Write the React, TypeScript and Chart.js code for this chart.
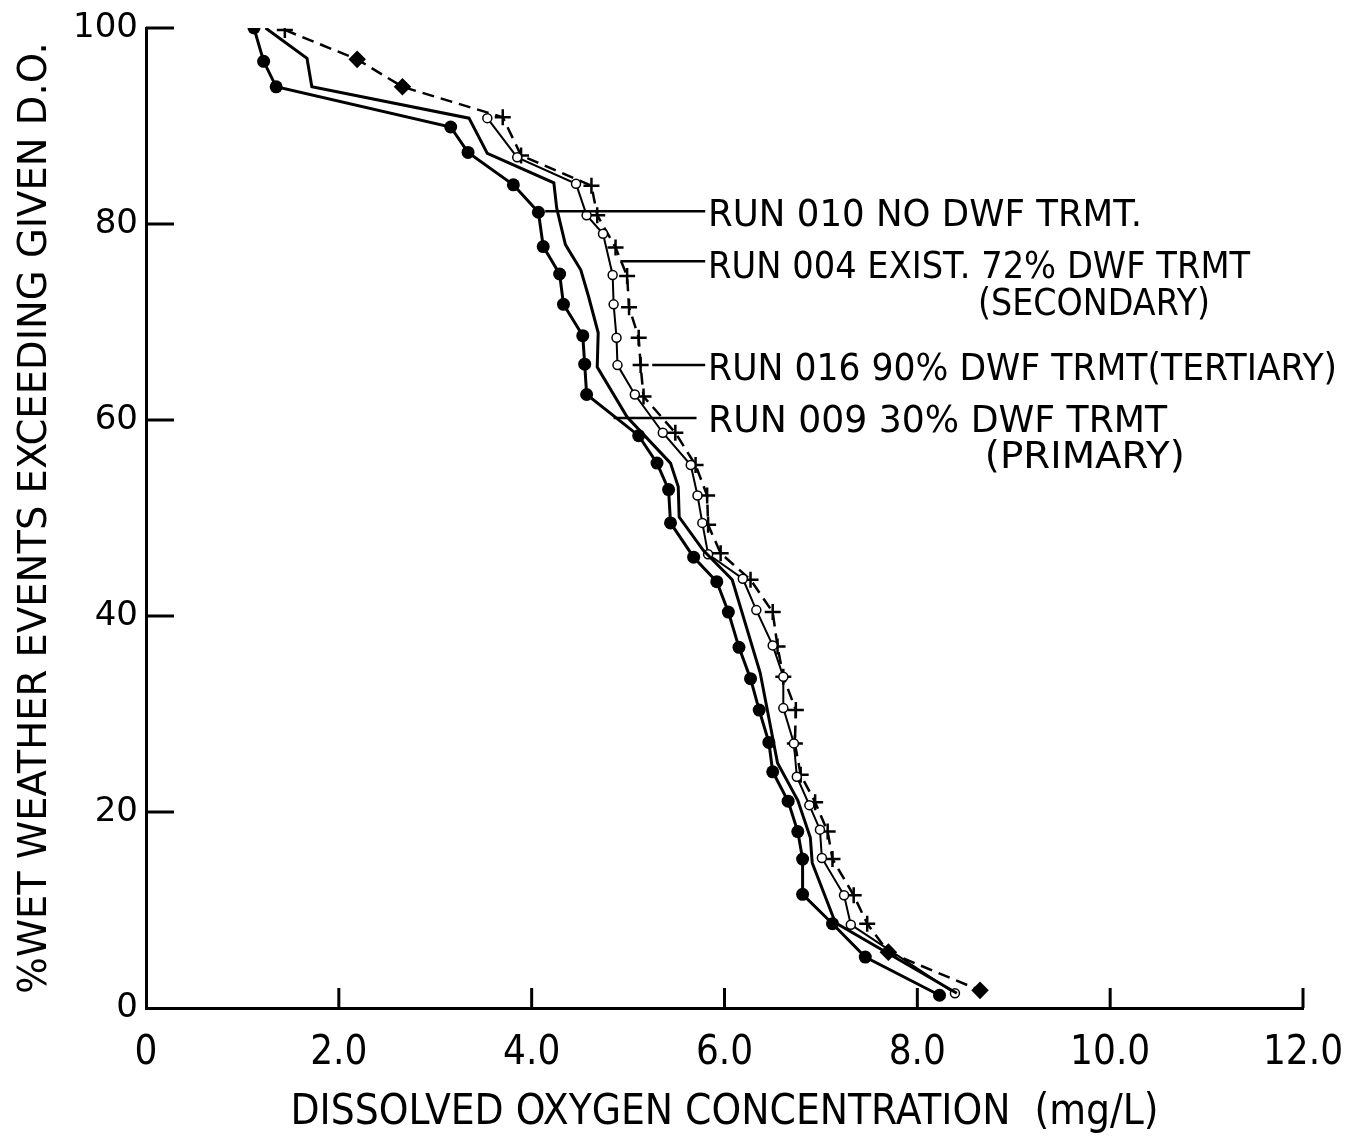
import React, { useEffect, useRef } from "react";
import { Chart, registerables } from "chart.js";

Chart.register(...registerables);

// ---------- axis ticks ----------
const X_TICKS = [0, 2, 4, 6, 8, 10, 12];
const X_TICK_LABELS = ["0", "2.0", "4.0", "6.0", "8.0", "10.0", "12.0"];
const Y_TICKS = [0, 20, 40, 60, 80, 100];

// ---------- RUN 010 (no DWF treatment) : filled dots ----------
const RUN010_X = [1.12, 1.22, 1.35, 3.16, 3.34, 3.81, 4.07, 4.12, 4.29, 4.33, 4.53, 4.55, 4.57, 5.11, 5.3, 5.42, 5.44, 5.68, 5.92, 6.04, 6.15, 6.27, 6.36, 6.46, 6.5, 6.66, 6.76, 6.81, 6.81, 7.12, 7.46, 8.23];
const RUN010_Y = [100, 96.6, 94.0, 89.9, 87.3, 84.0, 81.2, 77.7, 74.9, 71.8, 68.6, 65.7, 62.6, 58.4, 55.6, 52.9, 49.5, 46.0, 43.5, 40.4, 36.8, 33.6, 30.4, 27.1, 24.1, 21.1, 18.0, 15.2, 11.6, 8.6, 5.2, 1.3];

// ---------- RUN 009 (30% primary) : plain solid ----------
const RUN009_X = [1.24, 1.67, 1.72, 3.35, 3.54, 4.23, 4.26, 4.35, 4.51, 4.59, 4.69, 4.68, 4.99, 5.44, 5.52, 5.53, 5.78, 6.08, 6.37, 6.55, 6.76, 6.89, 6.91, 7.15, 8.41];
const RUN009_Y = [100, 96.9, 94.0, 90.8, 87.2, 84.2, 81.6, 77.9, 75.3, 72.6, 68.9, 65.4, 60.3, 55.6, 53.2, 50.1, 46.7, 43.7, 34.2, 25.0, 21.2, 17.4, 14.8, 8.7, 1.5];

// ---------- RUN 004 (existing 72% secondary) : open circles ----------
const RUN004_X = [3.54, 3.85, 4.46, 4.57, 4.74, 4.84, 4.85, 4.88, 4.89, 5.07, 5.36, 5.65, 5.72, 5.77, 5.83, 6.19, 6.33, 6.5, 6.61, 6.61, 6.72, 6.75, 6.88, 6.99, 7.01, 7.24, 7.31, 8.39];
const RUN004_Y = [90.8, 86.8, 84.1, 80.9, 79.0, 74.8, 71.8, 68.4, 65.6, 62.6, 58.7, 55.4, 52.3, 49.5, 46.3, 43.8, 40.6, 37.0, 33.8, 30.6, 27.0, 23.6, 20.7, 18.2, 15.3, 11.5, 8.5, 1.5];

// ---------- RUN 016 (90% tertiary) : crosses, dashed ----------
const RUN016_X = [1.44, 2.19, 2.66, 3.7, 3.89, 4.62, 4.68, 4.87, 4.99, 5.01, 5.11, 5.13, 5.16, 5.49, 5.7, 5.82, 5.83, 5.96, 6.27, 6.5, 6.55, 6.61, 6.74, 6.73, 6.79, 6.94, 7.07, 7.12, 7.34, 7.48, 7.7, 8.65];
const RUN016_Y = [99.8, 96.8, 94.0, 90.9, 87.0, 83.9, 80.9, 77.6, 74.7, 71.5, 68.4, 65.6, 62.4, 58.7, 55.4, 52.3, 49.3, 46.4, 43.7, 40.4, 36.9, 33.8, 30.4, 27.0, 23.8, 21.0, 18.0, 15.2, 11.5, 8.6, 5.7, 1.8];
const RUN016_DIAMOND_POINTS = [1, 2, 30, 31];

// ---------- annotation labels (data coordinates) ----------
const LABEL_TEXTS = [
  "RUN 010 NO DWF TRMT.",
  "RUN 004 EXIST. 72% DWF TRMT",
  "(SECONDARY)",
  "RUN 016 90% DWF TRMT(TERTIARY)",
  "RUN 009 30% DWF TRMT",
  "(PRIMARY)",
];
const LABEL_X = [5.83, 5.83, 8.63, 5.83, 5.83, 8.7];
const LABEL_Y = [80.8, 75.5, 71.7, 65.1, 59.8, 56.1];
const LABEL_WIDTH_PX = [434, 542, 232, 629, 459, 200];

const LEADER_X0 = [4.14, 4.92, 5.25, 4.85];
const LEADER_X1 = [5.8, 5.8, 5.8, 5.71];
const LEADER_Y = [81.3, 76.2, 65.6, 60.2];

const toPoints = (xs: number[], ys: number[]) => xs.map((x, i) => ({ x, y: ys[i] }));

const decorPlugin = {
  id: "decor",
  afterDraw(chart: any) {
    const { ctx, chartArea, scales } = chart;
    const xs = scales.x;
    const ys = scales.y;
    ctx.save();
    ctx.strokeStyle = "#000";
    ctx.fillStyle = "#000";
    ctx.lineCap = "butt";
    ctx.lineWidth = 3;
    X_TICKS.forEach((v) => {
      if (v === 0) return;
      const px = xs.getPixelForValue(v);
      ctx.beginPath();
      ctx.moveTo(px, chartArea.bottom);
      ctx.lineTo(px, chartArea.bottom - 20);
      ctx.stroke();
    });
    Y_TICKS.forEach((v) => {
      if (v === 0) return;
      const py = ys.getPixelForValue(v);
      ctx.beginPath();
      ctx.moveTo(chartArea.left, py);
      ctx.lineTo(chartArea.left + 28, py);
      ctx.stroke();
    });
    ctx.lineWidth = 2.5;
    LEADER_Y.forEach((yv, i) => {
      const py = ys.getPixelForValue(yv);
      ctx.beginPath();
      ctx.moveTo(xs.getPixelForValue(LEADER_X0[i]), py);
      ctx.lineTo(xs.getPixelForValue(LEADER_X1[i]), py);
      ctx.stroke();
    });
    ctx.font = "37px 'DejaVu Sans'";
    ctx.textBaseline = "middle";
    ctx.textAlign = "left";
    LABEL_TEXTS.forEach((t, i) => {
      const px = xs.getPixelForValue(LABEL_X[i]);
      const py = ys.getPixelForValue(LABEL_Y[i]);
      const w = ctx.measureText(t).width;
      ctx.save();
      ctx.translate(px, py);
      ctx.scale(LABEL_WIDTH_PX[i] / w, 1);
      ctx.fillText(t, 0, 0);
      ctx.restore();
    });
    ctx.restore();
  },
};

export default function App() {
  const ref = useRef<HTMLCanvasElement | null>(null);
  useEffect(() => {
    if (!ref.current) return;
    const chart = new Chart(ref.current, {
      type: "line",
      data: {
        datasets: [
          {
            label: "RUN 010 NO DWF TRMT.",
            data: toPoints(RUN010_X, RUN010_Y),
            borderColor: "#000",
            backgroundColor: "#000",
            borderWidth: 3,
            pointRadius: 6.5,
            pointStyle: "circle",
            pointBackgroundColor: "#000",
            pointBorderColor: "#000",
            pointBorderWidth: 0,
            tension: 0,
          },
          {
            label: "RUN 009 30% DWF TRMT (PRIMARY)",
            data: toPoints(RUN009_X, RUN009_Y),
            borderColor: "#000",
            borderWidth: 3,
            pointRadius: 0,
            tension: 0,
          },
          {
            label: "RUN 004 EXIST. 72% DWF TRMT (SECONDARY)",
            data: toPoints(RUN004_X, RUN004_Y),
            borderColor: "#000",
            borderWidth: 2,
            pointRadius: 4.5,
            pointStyle: "circle",
            pointBackgroundColor: "#fff",
            pointBorderColor: "#000",
            pointBorderWidth: 1.5,
            tension: 0,
          },
          {
            label: "RUN 016 90% DWF TRMT (TERTIARY)",
            data: toPoints(RUN016_X, RUN016_Y),
            borderColor: "#000",
            borderWidth: 2.5,
            borderDash: [12, 7],
            pointStyle: (c: any) => (RUN016_DIAMOND_POINTS.includes(c.dataIndex) ? "rectRot" : "cross"),
            pointRadius: (c: any) => (RUN016_DIAMOND_POINTS.includes(c.dataIndex) ? 7 : 8),
            pointBackgroundColor: "#000",
            pointBorderColor: "#000",
            pointBorderWidth: 2.5,
            tension: 0,
          },
        ],
      },
      options: {
        animation: false,
        responsive: false,
        devicePixelRatio: 1,
        layout: { padding: { top: 28, right: 42, left: 0, bottom: 0 } },
        plugins: { legend: { display: false }, tooltip: { enabled: false } },
        scales: {
          x: {
            type: "linear",
            min: 0,
            max: 12,
            afterFit: (s: any) => {
              s.height = 133;
              s.paddingLeft = 0;
              s.paddingRight = 0;
            },
            afterBuildTicks: (s: any) => {
              s.ticks = X_TICKS.map((v) => ({ value: v }));
            },
            grid: { display: false, drawTicks: false },
            border: { display: true, color: "#000", width: 3 },
            ticks: {
              padding: 22,
              color: "#000",
              font: { family: "'Liberation Sans Narrow', 'DejaVu Sans Condensed', 'DejaVu Sans'", size: 40 },
              callback: (v: any) => X_TICK_LABELS[X_TICKS.indexOf(Number(v))] ?? "",
              maxRotation: 0,
            },
            title: {
              display: true,
              text: "DISSOLVED OXYGEN CONCENTRATION  (mg/L)",
              color: "#000",
              font: { family: "'Liberation Sans Narrow', 'DejaVu Sans Condensed', 'DejaVu Sans'", size: 42, lineHeight: 1.2 },
              padding: { top: 0, bottom: 3 },
            },
          },
          y: {
            type: "linear",
            min: 0,
            max: 100,
            afterFit: (s: any) => {
              s.width = 146;
              s.paddingTop = 0;
              s.paddingBottom = 0;
            },
            afterBuildTicks: (s: any) => {
              s.ticks = Y_TICKS.map((v) => ({ value: v }));
            },
            grid: { display: false, drawTicks: false },
            border: { display: true, color: "#000", width: 3 },
            ticks: {
              padding: 8,
              color: "#000",
              font: { family: "'DejaVu Sans'", size: 34 },
            },
            title: {
              display: true,
              text: "%WET WEATHER EVENTS EXCEEDING GIVEN D.O.",
              color: "#000",
              font: { family: "'DejaVu Sans'", size: 38.5, lineHeight: 1.2 },
              padding: { top: 13, bottom: 0 },
            },
          },
        },
      },
      plugins: [decorPlugin],
    } as any);
    return () => chart.destroy();
  }, []);
  return (
    <div style={{ position: "absolute", left: 0, top: 0, width: 1345, height: 1141, background: "#fff" }}>
      <canvas ref={ref} width={1345} height={1141} />
    </div>
  );
}
